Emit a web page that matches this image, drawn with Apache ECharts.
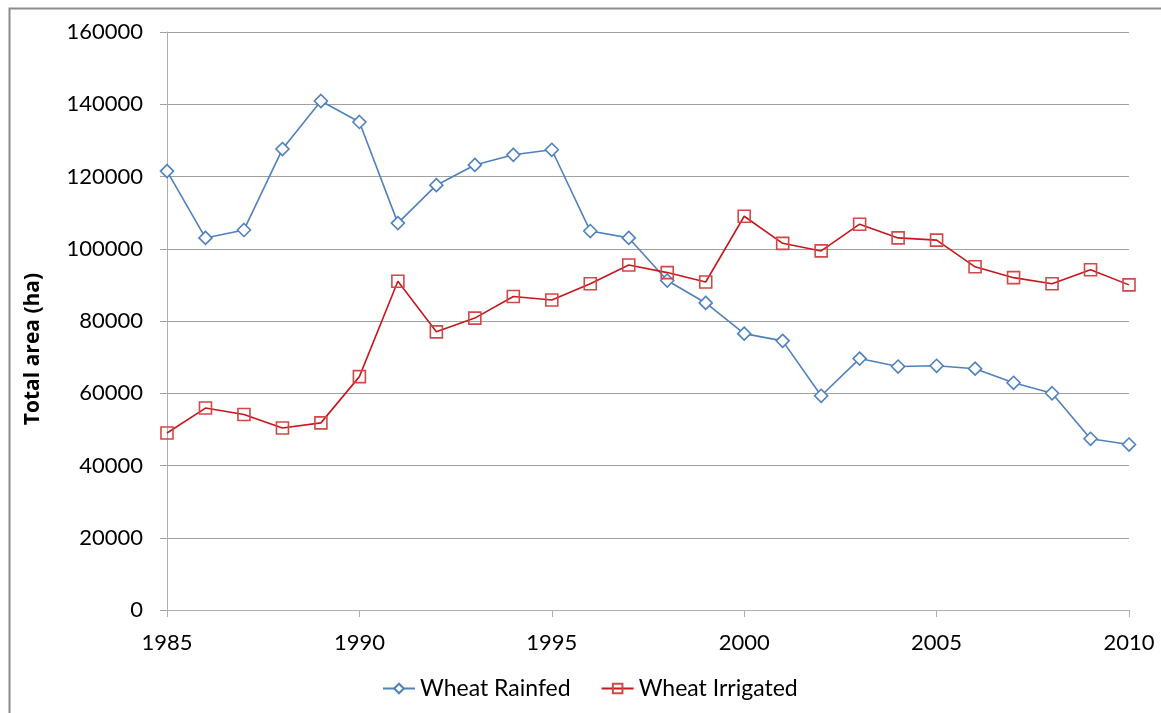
<!DOCTYPE html>
<html>
<head>
<meta charset="utf-8">
<script src="https://cdn.jsdelivr.net/npm/echarts@6/dist/echarts.min.js"></script>
<style>
html,body{margin:0;padding:0;background:#fff;}
#c{width:1161px;height:713px;}
</style>
</head>
<body>
<div id="c"></div>
<script>
const years = [1985,1986,1987,1988,1989,1990,1991,1992,1993,1994,1995,1996,1997,1998,1999,2000,2001,2002,2003,2004,2005,2006,2007,2008,2009,2010];
const rainfed = [121500,103000,105200,127600,140900,135100,107100,117600,123200,126000,127400,104900,103000,91200,85000,76500,74500,59300,69600,67400,67600,66800,62900,60000,47400,45800];
const irrigated = [49000,55900,54100,50400,51800,64600,91000,77000,80800,86800,85800,90300,95500,93400,90800,109000,101500,99400,106800,103000,102400,95000,92000,90300,94200,90000];
const yTicks = {min:0, max:160000, interval:20000};
const seriesNames = ['Wheat Rainfed','Wheat Irrigated'];
const yTitle = 'Total area (ha)';

const font = 'Lato, "Open Sans", sans-serif';
const chart = echarts.init(document.getElementById('c'), null, {renderer:'canvas'});
chart.setOption({
  animation:false,
  backgroundColor:'#fff',
  graphic:[
    {type:'rect', shape:{x:9.5,y:8.5,width:1200,height:800}, style:{fill:'none',stroke:'#8c8c8c',lineWidth:2}, silent:true, z:-1},
    {type:'text', x:33, y:349, rotation:Math.PI/2, style:{text:yTitle, font:'bold 21px "Open Sans", sans-serif', fill:'#000', textAlign:'center', textVerticalAlign:'middle'}}
  ],
  grid:{left:167,right:32,top:32,bottom:103,containLabel:false},
  legend:{
    bottom:8, left:377, itemWidth:32, itemHeight:12, itemGap:30,
    textStyle:{fontFamily:font,fontSize:23,color:'#000'},
    data:seriesNames
  },
  xAxis:{
    type:'value', min:1985, max:2010, interval:5,
    axisLine:{show:true,lineStyle:{color:'#b0b0b0',width:1}},
    axisTick:{show:true,length:7,inside:false,lineStyle:{color:'#b0b0b0'}},
    splitLine:{show:false},
    axisLabel:{fontFamily:font,fontSize:22,color:'#000',margin:22,formatter:v=>String(v)}
  },
  yAxis:{
    type:'value', min:yTicks.min, max:yTicks.max, interval:yTicks.interval,
    axisLine:{show:true,lineStyle:{color:'#b0b0b0',width:1}},
    axisTick:{show:true,length:7,lineStyle:{color:'#a0a0a0'}},
    splitLine:{show:true,lineStyle:{color:'#a0a0a0',width:1}},
    axisLabel:{fontFamily:font,fontSize:22,color:'#000',margin:24,formatter:v=>String(v)}
  },
  series:[
    {name:seriesNames[0], type:'line', data:years.map((y,i)=>[y,rainfed[i]]),
     symbol:'diamond', symbolSize:13, showAllSymbol:true,
     lineStyle:{color:'#4f81bd',width:1.6},
     itemStyle:{color:'#ffffff',borderColor:'#4f81bd',borderWidth:1.6}},
    {name:seriesNames[1], type:'line', data:years.map((y,i)=>[y,irrigated[i]]),
     symbol:'rect', symbolSize:12, showAllSymbol:true,
     lineStyle:{color:'#c8161d',width:1.6},
     itemStyle:{color:'rgba(255,255,255,0)',borderColor:'#d04848',borderWidth:1.6}}
  ]
});
</script>
</body>
</html>
